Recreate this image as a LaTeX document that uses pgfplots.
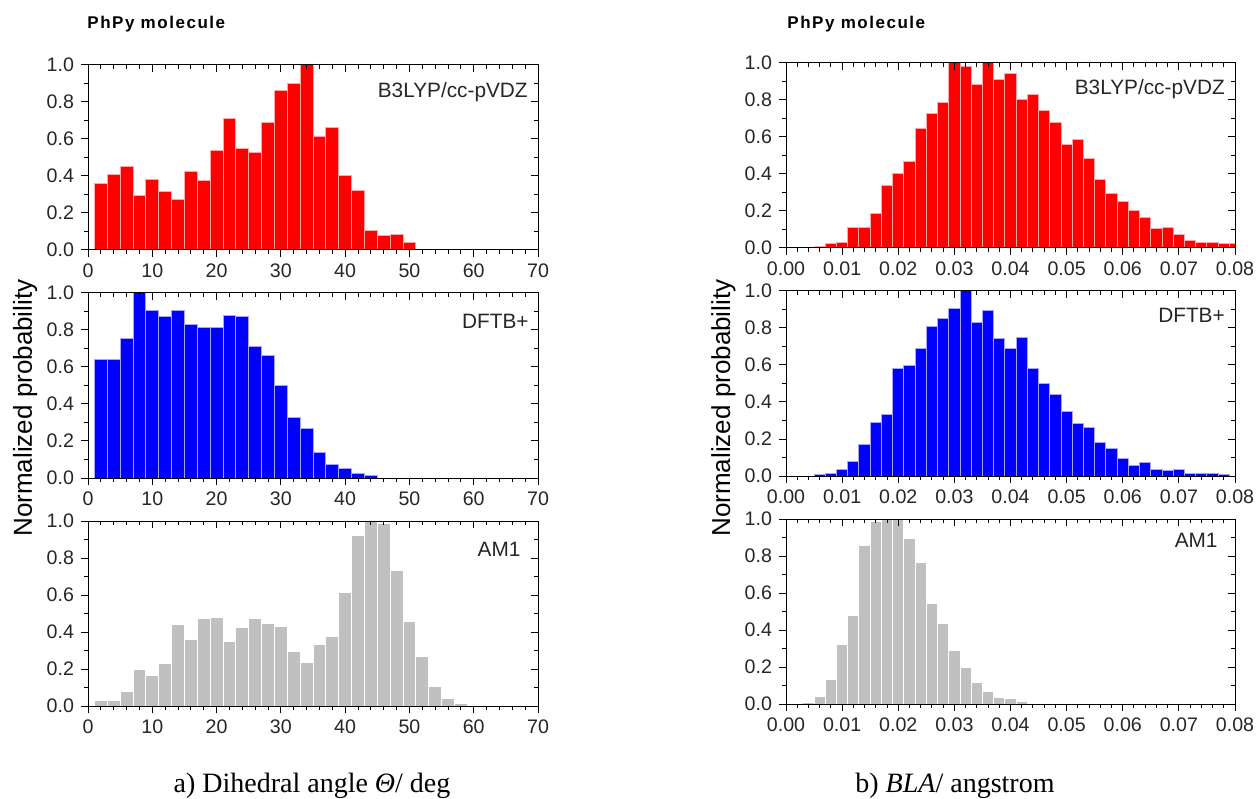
\documentclass[border=0pt]{standalone}
\usepackage{fontspec}
\setmainfont{Liberation Sans}
\newfontfamily\capfont{Liberation Serif}
\newfontfamily\headfont[LetterSpace=9]{Liberation Sans Bold}
\usepackage{pgfplots}
\pgfplotsset{compat=1.18}

\definecolor{barred}{RGB}{255,0,0}
\definecolor{barblue}{RGB}{0,0,255}
\definecolor{bargray}{RGB}{192,192,192}

\tikzset{lab/.style={font=\fontsize{10.4}{12}\selectfont, text=black!85, inner sep=0pt}}

\pgfplotsset{
  base/.style={
    scale only axis, height=92.5pt,
    ymin=0, ymax=1, ytick={0,0.2,0.4,0.6,0.8,1.0}, minor y tick num=1,
    major tick length=3.5pt, minor tick length=2pt,
    tick style={black, line width=0.5pt},
    axis line style={black, line width=0.5pt},
    tick label style={font=\fontsize{9.8}{11}\selectfont, text=black!85},
    /pgf/number format/assume math mode=true,
  },
  leftx/.style={xmin=0, xmax=70, xtick={0,10,...,70}, minor x tick num=4, width=225pt},
  rightx/.style={xmin=0, xmax=0.08, xtick={0,0.01,0.02,0.03,0.04,0.05,0.06,0.07,0.08},
    minor x tick num=4, width=224.5pt, scaled x ticks=false,
    xticklabel style={/pgf/number format/.cd, fixed, fixed zerofill, precision=2}},
  main/.style={base, tick align=outside, xtick pos=left, ytick pos=left, axis on top,
    ybar, bar shift=0pt,
    yticklabel style={/pgf/number format/.cd, fixed, fixed zerofill, precision=1}},
  mirror/.style={base, tick align=inside, xtick pos=right, ytick pos=right,
    xticklabels={}, yticklabels={}},
}

\begin{document}
\begin{tikzpicture}
\path[use as bounding box] (0,0) rectangle (628pt,399pt);

% ---- left column: dihedral angle ----
\begin{axis}[main, leftx, at={(44pt,274pt)}, anchor=south west, bar width=2]
  \addplot[fill=barred, draw=barred!35!white, line width=0.5pt] coordinates {
    (2,0.362)(4,0.41)(6,0.454)(8,0.293)(10,0.382)(12,0.314)(14,0.271)(16,0.425)
    (18,0.377)(20,0.536)(22,0.711)(24,0.55)(26,0.529)(28,0.689)(30,0.862)(32,0.898)
    (34,1.0)(36,0.614)(38,0.661)(40,0.405)(42,0.32)(44,0.105)(46,0.079)(48,0.084)(50,0.041)};
  \node[lab, anchor=north east] at (rel axis cs:0.978,0.909) {B3LYP/cc-pVDZ};
\end{axis}
\begin{axis}[mirror, leftx, at={(44pt,274pt)}, anchor=south west]\end{axis}

\begin{axis}[main, leftx, at={(44pt,160pt)}, anchor=south west, bar width=2]
  \addplot[fill=barblue, draw=barblue!35!white, line width=0.5pt] coordinates {
    (2,0.641)(4,0.641)(6,0.752)(8,1.0)(10,0.907)(12,0.871)(14,0.907)(16,0.829)
    (18,0.815)(20,0.815)(22,0.88)(24,0.871)(26,0.709)(28,0.662)(30,0.501)(32,0.327)
    (34,0.269)(36,0.138)(38,0.075)(40,0.054)(42,0.027)(44,0.013)};
  \node[lab, anchor=north east] at (rel axis cs:0.98,0.89) {DFTB+};
\end{axis}
\begin{axis}[mirror, leftx, at={(44pt,160pt)}, anchor=south west]\end{axis}

\begin{axis}[main, leftx, at={(44pt,46pt)}, anchor=south west, bar width=2]
  \addplot[fill=bargray, draw=white, line width=0.5pt] coordinates {
    (2,0.032)(4,0.032)(6,0.081)(8,0.195)(10,0.164)(12,0.229)(14,0.44)(16,0.362)
    (18,0.474)(20,0.481)(22,0.348)(24,0.425)(26,0.474)(28,0.445)(30,0.432)(32,0.292)
    (34,0.236)(36,0.335)(38,0.377)(40,0.614)(42,0.923)(44,1.0)(46,0.986)(48,0.735)
    (50,0.459)(52,0.27)(54,0.108)(56,0.038)(58,0.011)};
  \node[lab, anchor=north east] at (rel axis cs:0.962,0.887) {AM1};
\end{axis}
\begin{axis}[mirror, leftx, at={(44pt,46pt)}, anchor=south west]\end{axis}

% ---- right column: BLA ----
\begin{axis}[main, rightx, at={(393pt,275pt)}, anchor=south west, bar width=0.002]
  \addplot[fill=barred, draw=barred!35!white, line width=0.5pt] coordinates {
    (0.006,0.009)(0.008,0.023)(0.010,0.03)(0.012,0.112)(0.014,0.112)(0.016,0.184)
    (0.018,0.336)(0.020,0.405)(0.022,0.468)(0.024,0.648)(0.026,0.725)(0.028,0.789)
    (0.030,1.0)(0.032,0.982)(0.034,0.886)(0.036,1.0)(0.038,0.913)(0.040,0.941)
    (0.042,0.8)(0.044,0.83)(0.046,0.741)(0.048,0.677)(0.050,0.559)(0.052,0.588)
    (0.054,0.482)(0.056,0.37)(0.058,0.295)(0.060,0.254)(0.062,0.204)(0.064,0.163)
    (0.066,0.105)(0.068,0.112)(0.070,0.071)(0.072,0.038)(0.074,0.03)(0.076,0.03)
    (0.078,0.023)(0.080,0.023)};
  \node[lab, anchor=north east] at (rel axis cs:0.978,0.914) {B3LYP/cc-pVDZ};
\end{axis}
\begin{axis}[mirror, rightx, at={(393pt,275pt)}, anchor=south west]\end{axis}

\begin{axis}[main, rightx, at={(393pt,161pt)}, anchor=south west, bar width=0.002]
  \addplot[fill=barblue, draw=barblue!35!white, line width=0.5pt] coordinates {
    (0.006,0.009)(0.008,0.016)(0.010,0.036)(0.012,0.077)(0.014,0.171)(0.016,0.29)
    (0.018,0.333)(0.020,0.581)(0.022,0.597)(0.024,0.687)(0.026,0.806)(0.028,0.854)
    (0.030,0.905)(0.032,1.0)(0.034,0.829)(0.036,0.897)(0.038,0.743)(0.040,0.687)
    (0.042,0.75)(0.044,0.581)(0.046,0.498)(0.048,0.442)(0.050,0.351)(0.052,0.282)
    (0.054,0.261)(0.056,0.183)(0.058,0.149)(0.060,0.092)(0.062,0.058)(0.064,0.072)
    (0.066,0.036)(0.068,0.029)(0.070,0.036)(0.072,0.016)(0.074,0.016)(0.076,0.016)
    (0.078,0.009)};
  \node[lab, anchor=north east] at (rel axis cs:0.978,0.909) {DFTB+};
\end{axis}
\begin{axis}[mirror, rightx, at={(393pt,161pt)}, anchor=south west]\end{axis}

\begin{axis}[main, rightx, at={(393pt,47pt)}, anchor=south west, bar width=0.002]
  \addplot[fill=bargray, draw=white, line width=0.5pt] coordinates {
    (0.004,0.007)(0.006,0.043)(0.008,0.135)(0.010,0.323)(0.012,0.477)(0.014,0.858)
    (0.016,0.989)(0.018,1.0)(0.020,1.0)(0.022,0.897)(0.024,0.766)(0.026,0.541)
    (0.028,0.436)(0.030,0.288)(0.032,0.196)(0.034,0.114)(0.036,0.07)(0.038,0.034)
    (0.040,0.029)(0.042,0.014)};
  \node[lab, anchor=north east] at (rel axis cs:0.962,0.925) {AM1};
\end{axis}
\begin{axis}[mirror, rightx, at={(393pt,47pt)}, anchor=south west]\end{axis}

% ---- titles, axis labels, captions ----
\node[anchor=base west, inner sep=0pt, font=\headfont\fontsize{8.5}{10}\selectfont] at (43.5pt,384.5pt) {PhPy molecule};
\node[anchor=base west, inner sep=0pt, font=\headfont\fontsize{8.5}{10}\selectfont] at (393.5pt,384.5pt) {PhPy molecule};
\node[rotate=90, anchor=base, inner sep=0pt, font=\fontsize{13}{15}\selectfont] at (16pt,195pt) {Normalized probability};
\node[rotate=90, anchor=base, inner sep=0pt, font=\fontsize{13}{15}\selectfont] at (365pt,195pt) {Normalized probability};
\node[anchor=base, inner sep=0pt, font=\capfont\fontsize{14}{16}\selectfont] at (156pt,3pt) {a) Dihedral angle \textit{Θ}/ deg};
\node[anchor=base, inner sep=0pt, font=\capfont\fontsize{14}{16}\selectfont] at (477.5pt,3pt) {b) \textit{BLA}/ angstrom};
\end{tikzpicture}
\end{document}
